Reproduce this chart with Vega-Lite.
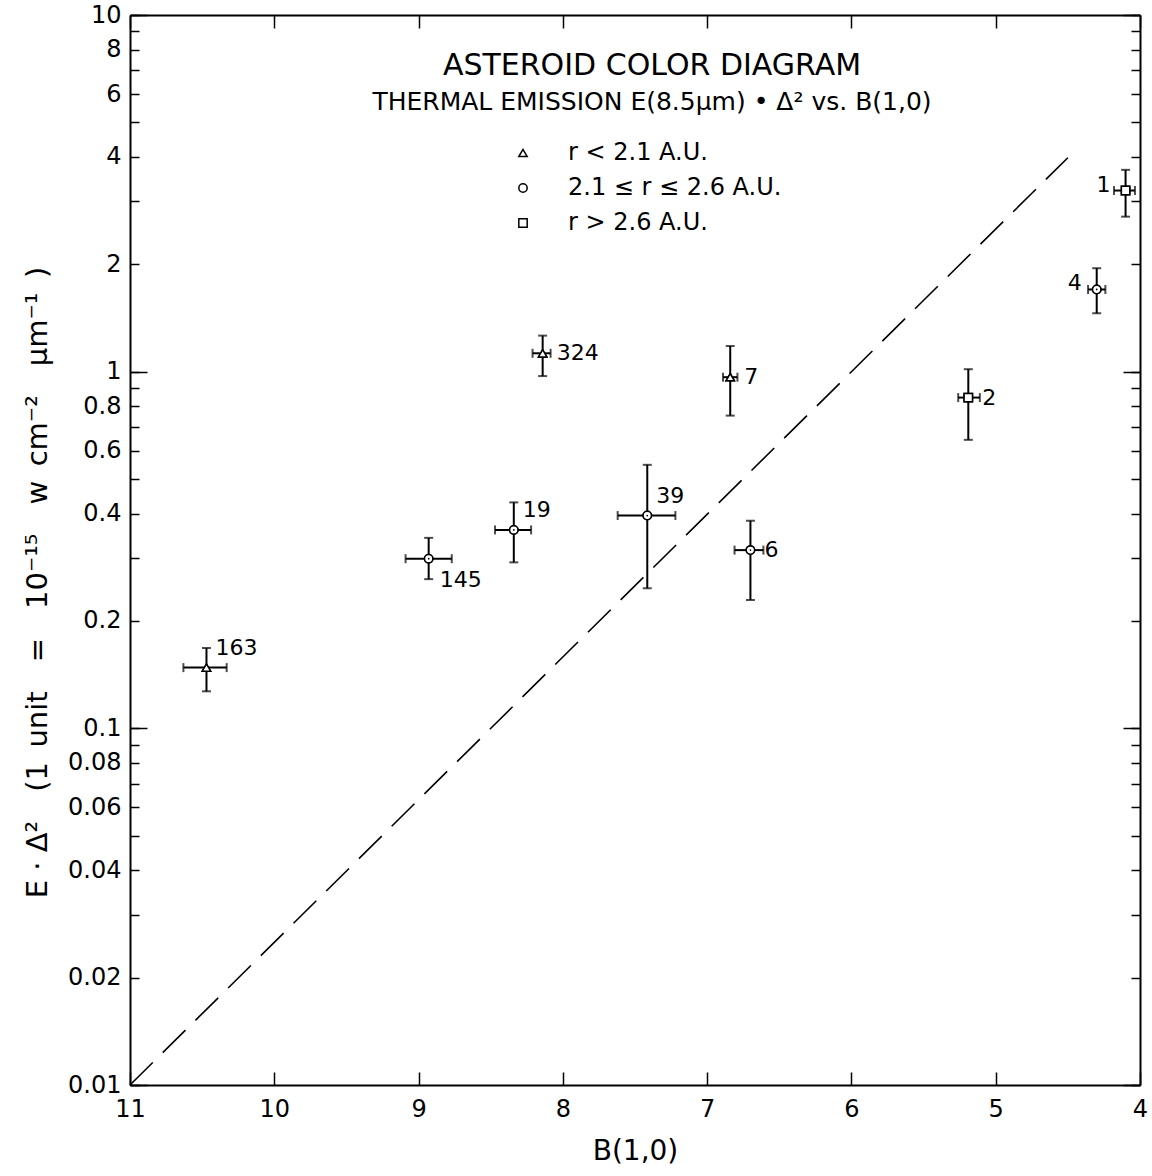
{
  "$schema": "https://vega.github.io/schema/vega-lite/v6.json",
  "width": 1010,
  "height": 1070,
  "autosize": {"type": "none"},
  "padding": {"left": 130, "top": 15, "right": 12, "bottom": 91},
  "background": "white",
  "config": {
    "font": "DejaVu Sans",
    "view": {"stroke": null},
    "axis": {
      "grid": false,
      "domainColor": "black",
      "domainWidth": 2,
      "tickColor": "black",
      "tickWidth": 1.5,
      "labelColor": "black",
      "labelFont": "DejaVu Sans",
      "labelFontSize": 24,
      "titleColor": "black",
      "titleFont": "DejaVu Sans",
      "titleFontWeight": "normal",
      "labelFlush": false,
      "labelOverlap": false,
      "labelBound": false
    }
  },
  "title": {
    "text": "ASTEROID COLOR DIAGRAM",
    "subtitle": "THERMAL EMISSION E(8.5μm) • Δ² vs. B(1,0)",
    "anchor": "middle",
    "orient": "top",
    "offset": -112,
    "dx": 17,
    "font": "DejaVu Sans",
    "fontSize": 30,
    "fontWeight": "normal",
    "color": "black",
    "subtitleFont": "DejaVu Sans",
    "subtitleFontSize": 25,
    "subtitleColor": "black",
    "subtitlePadding": 9
  },
  "datasets": {
    "pts": [
      {"id": "163", "bx": 10.47, "e": 0.148, "xlo": 10.63, "xhi": 10.33, "elo": 0.127, "ehi": 0.168, "r": "r < 2.1 A.U."},
      {"id": "145", "bx": 8.93, "e": 0.299, "xlo": 9.09, "xhi": 8.77, "elo": 0.262, "ehi": 0.342, "r": "2.1 ≤ r ≤ 2.6 A.U."},
      {"id": "19", "bx": 8.34, "e": 0.36, "xlo": 8.47, "xhi": 8.22, "elo": 0.292, "ehi": 0.43, "r": "2.1 ≤ r ≤ 2.6 A.U."},
      {"id": "324", "bx": 8.14, "e": 1.126, "xlo": 8.21, "xhi": 8.085, "elo": 0.972, "ehi": 1.262, "r": "r < 2.1 A.U."},
      {"id": "7", "bx": 6.84, "e": 0.965, "xlo": 6.89, "xhi": 6.79, "elo": 0.753, "ehi": 1.18, "r": "r < 2.1 A.U."},
      {"id": "39", "bx": 7.415, "e": 0.395, "xlo": 7.62, "xhi": 7.22, "elo": 0.247, "ehi": 0.548, "r": "2.1 ≤ r ≤ 2.6 A.U."},
      {"id": "6", "bx": 6.7, "e": 0.316, "xlo": 6.81, "xhi": 6.61, "elo": 0.229, "ehi": 0.382, "r": "2.1 ≤ r ≤ 2.6 A.U."},
      {"id": "1", "bx": 4.1, "e": 3.22, "xlo": 4.18, "xhi": 4.035, "elo": 2.72, "ehi": 3.68, "r": "r > 2.6 A.U."},
      {"id": "4", "bx": 4.3, "e": 1.7, "xlo": 4.36, "xhi": 4.24, "elo": 1.458, "ehi": 1.95, "r": "2.1 ≤ r ≤ 2.6 A.U."},
      {"id": "2", "bx": 5.19, "e": 0.846, "xlo": 5.26, "xhi": 5.11, "elo": 0.644, "ehi": 1.016, "r": "r > 2.6 A.U."}
    ],
    "line": [
      {"bx": 11, "e": 0.01},
      {"bx": 4.5, "e": 3.98}
    ]
  },
  "layer": [
    {
      "data": {"name": "pts"},
      "mark": {"type": "point", "filled": false, "color": "black", "strokeWidth": 1.5, "size": 70, "opacity": 1},
      "encoding": {
        "x": {
          "field": "bx", "type": "quantitative",
          "scale": {"domain": [4, 11], "reverse": true, "nice": false, "zero": false},
          "axis": null
        },
        "y": {
          "field": "e", "type": "quantitative",
          "scale": {"type": "log", "domain": [0.01, 10], "nice": false},
          "axis": null
        },
        "shape": {
          "field": "r", "type": "nominal",
          "scale": {"domain": ["r < 2.1 A.U.", "2.1 ≤ r ≤ 2.6 A.U.", "r > 2.6 A.U."], "range": ["triangle-up", "circle", "square"]},
          "legend": {
            "orient": "none", "legendX": 381, "legendY": 126, "title": null,
            "labelFontSize": 24, "labelFont": "DejaVu Sans", "labelColor": "black", "labelOffset": 33, "labelLimit": 0, "rowPadding": 11,
            "symbolSize": 70, "symbolStrokeWidth": 1.5
          }
        }
      }
    },
    {
      "data": {"name": "line"},
      "mark": {"type": "line", "color": "black", "strokeWidth": 1.6, "strokeDash": [32, 14]},
      "encoding": {
        "x": {
          "field": "bx", "type": "quantitative",
          "axis": {
            "orient": "bottom",
            "values": [4, 5, 6, 7, 8, 9, 10, 11],
            "tickSize": -13,
            "labelPadding": 25,
            "format": "d",
            "title": "B(1,0)",
            "titleFontSize": 28,
            "titlePadding": 16
          }
        },
        "y": {
          "field": "e", "type": "quantitative",
          "axis": {
            "orient": "left",
            "values": [10, 9, 8, 7, 6, 5, 4, 3, 2, 1, 0.9, 0.8, 0.7, 0.6, 0.5, 0.4, 0.3, 0.2, 0.1, 0.09, 0.08, 0.07, 0.06, 0.05, 0.04, 0.03, 0.02, 0.01],
            "labelExpr": "indexof([10,8,6,4,2,1,0.8,0.6,0.4,0.2,0.1,0.08,0.06,0.04,0.02,0.01], datum.value) >= 0 ? format(datum.value, '~g') : ''",
            "tickSize": -9,
            "labelPadding": 18,
            "title": "E · Δ²\u2003(1\u2002unit\u2003=\u200310⁻¹⁵\u2003w\u2002cm⁻²\u2003μm⁻¹\u2002)",
            "titleFontSize": 29,
            "titleX": -93,
            "titleY": 567,
            "titleBaseline": "middle"
          }
        }
      }
    },
    {
      "data": {"name": "pts"},
      "mark": {"type": "rule", "color": "black", "strokeWidth": 2},
      "encoding": {
        "x": {
          "field": "xlo", "type": "quantitative",
          "axis": {"orient": "top", "values": [4, 5, 6, 7, 8, 9, 10, 11], "tickSize": -13, "labels": false, "title": null}
        },
        "x2": {"field": "xhi"},
        "y": {
          "field": "e", "type": "quantitative",
          "axis": {
            "orient": "right",
            "values": [10, 9, 8, 7, 6, 5, 4, 3, 2, 1, 0.9, 0.8, 0.7, 0.6, 0.5, 0.4, 0.3, 0.2, 0.1, 0.09, 0.08, 0.07, 0.06, 0.05, 0.04, 0.03, 0.02, 0.01],
            "tickSize": -9, "labels": false, "title": null
          }
        }
      }
    },
    {
      "data": {"name": "pts"},
      "mark": {"type": "rule", "color": "black", "strokeWidth": 2},
      "encoding": {
        "x": {"field": "bx", "type": "quantitative", "axis": null},
        "y": {
          "field": "elo", "type": "quantitative",
          "axis": {"orient": "left", "values": [10, 1, 0.1, 0.01], "tickSize": -17, "labels": false, "domain": false, "title": null}
        },
        "y2": {"field": "ehi"}
      }
    },
    {
      "data": {"name": "pts"},
      "transform": [{"fold": ["xlo", "xhi"], "as": ["end", "xv"]}],
      "mark": {"type": "tick", "orient": "vertical", "color": "black", "size": 9, "thickness": 2},
      "encoding": {
        "x": {"field": "xv", "type": "quantitative", "axis": null},
        "y": {
          "field": "e", "type": "quantitative",
          "axis": {"orient": "right", "values": [10, 1, 0.1, 0.01], "tickSize": -17, "labels": false, "domain": false, "title": null}
        }
      }
    },
    {
      "data": {"name": "pts"},
      "transform": [{"fold": ["elo", "ehi"], "as": ["end", "ev"]}],
      "mark": {"type": "tick", "orient": "horizontal", "color": "black", "size": 9, "thickness": 2},
      "encoding": {
        "x": {"field": "bx", "type": "quantitative", "axis": null},
        "y": {"field": "ev", "type": "quantitative", "axis": null}
      }
    },
    {
      "data": {"name": "pts"},
      "mark": {"type": "point", "filled": true, "fill": "white", "stroke": "black", "strokeWidth": 1.5, "size": 70, "opacity": 1},
      "encoding": {
        "x": {"field": "bx", "type": "quantitative", "axis": null},
        "y": {"field": "e", "type": "quantitative", "axis": null},
        "shape": {"field": "r", "type": "nominal", "legend": null}
      }
    },
    {
      "data": {"name": "pts"},
      "transform": [{"filter": {"field": "r", "equal": "2.1 ≤ r ≤ 2.6 A.U."}}],
      "mark": {"type": "point", "shape": "circle", "filled": true, "color": "black", "size": 3, "opacity": 1},
      "encoding": {
        "x": {"field": "bx", "type": "quantitative", "axis": null},
        "y": {"field": "e", "type": "quantitative", "axis": null}
      }
    },
    {
      "data": {"name": "pts"},
      "transform": [{"filter": {"field": "id", "oneOf": ["324", "7", "2", "6"]}}],
      "mark": {"type": "text", "align": "left", "baseline": "middle", "dx": 14, "fontSize": 22, "color": "black"},
      "encoding": {
        "x": {"field": "bx", "type": "quantitative", "axis": null},
        "y": {"field": "e", "type": "quantitative", "axis": null},
        "text": {"field": "id"}
      }
    },
    {
      "data": {"name": "pts"},
      "transform": [{"filter": {"field": "id", "oneOf": ["1", "4"]}}],
      "mark": {"type": "text", "align": "right", "baseline": "middle", "dx": -15, "dy": -6, "fontSize": 22, "color": "black"},
      "encoding": {
        "x": {"field": "bx", "type": "quantitative", "axis": null},
        "y": {"field": "e", "type": "quantitative", "axis": null},
        "text": {"field": "id"}
      }
    },
    {
      "data": {"name": "pts"},
      "transform": [{"filter": {"field": "id", "oneOf": ["39", "19", "163"]}}],
      "mark": {"type": "text", "align": "left", "baseline": "middle", "dx": 9, "dy": -20, "fontSize": 22, "color": "black"},
      "encoding": {
        "x": {"field": "bx", "type": "quantitative", "axis": null},
        "y": {"field": "e", "type": "quantitative", "axis": null},
        "text": {"field": "id"}
      }
    },
    {
      "data": {"name": "pts"},
      "transform": [{"filter": {"field": "id", "oneOf": ["145"]}}],
      "mark": {"type": "text", "align": "left", "baseline": "middle", "dx": 11, "dy": 21, "fontSize": 22, "color": "black"},
      "encoding": {
        "x": {"field": "bx", "type": "quantitative", "axis": null},
        "y": {"field": "e", "type": "quantitative", "axis": null},
        "text": {"field": "id"}
      }
    }
  ],
  "resolve": {"axis": {"x": "independent", "y": "independent"}}
}
